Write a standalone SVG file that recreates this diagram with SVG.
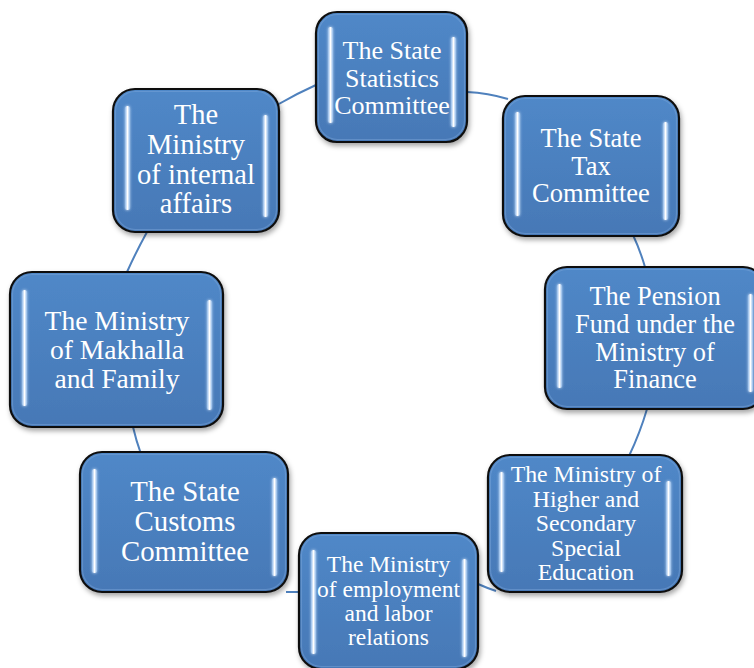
<svg xmlns="http://www.w3.org/2000/svg" width="754" height="668" viewBox="0 0 754 668">
  <defs>
    <linearGradient id="boxFill" x1="0" y1="0" x2="0" y2="1">
      <stop offset="0" stop-color="#5088c8"/>
      <stop offset="0.5" stop-color="#4b80bf"/>
      <stop offset="1" stop-color="#4678b6"/>
    </linearGradient>
    <linearGradient id="barFill" x1="0" y1="0" x2="1" y2="0">
      <stop offset="0" stop-color="#8fb9ea"/>
      <stop offset="0.5" stop-color="#ffffff"/>
      <stop offset="1" stop-color="#8fb9ea"/>
    </linearGradient>
    <filter id="shadow" x="-10%" y="-10%" width="125%" height="125%">
      <feDropShadow dx="1.5" dy="3" stdDeviation="2.5" flood-color="#000" flood-opacity="0.35"/>
    </filter>
    <filter id="glow" x="-300%" y="-10%" width="700%" height="120%">
      <feGaussianBlur in="SourceGraphic" stdDeviation="1.6" result="halo"/>
      <feMerge>
        <feMergeNode in="halo"/>
        <feMergeNode in="SourceGraphic"/>
      </feMerge>
    </filter>
  </defs>
  <style>
    .box { fill: url(#boxFill); stroke: #111; stroke-width: 2.2; filter: url(#shadow); }
    .rim { fill: none; stroke: #7fa9dc; stroke-width: 1.2; opacity: 0.45; }
    .bar { fill: url(#barFill); filter: url(#glow); }
    .lbl { font-family: "Liberation Serif", "Times New Roman", serif; fill: #ffffff; text-anchor: middle; }
    .link { fill: none; stroke: #4f81bd; stroke-width: 2; }
  </style>

  <!-- ring of connectors between neighbouring bodies -->
  <g id="connectors">
    <path class="link" d="M277,105 Q298,93 318,84"/>
    <path class="link" d="M467,92 Q488,93 508,99"/>
    <path class="link" d="M633,235 Q640,250 645,267"/>
    <path class="link" d="M647,409 Q640,433 629,456"/>
    <path class="link" d="M478,584 Q487,588 496,591"/>
    <path class="link" d="M286,592 L301,592"/>
    <path class="link" d="M133,427 Q136,440 141,454"/>
    <path class="link" d="M127,272 Q136,252 147,232"/>
  </g>

  <g id="statistics">
    <rect class="box" x="316" y="12" width="151" height="130" rx="21"/>
    <rect class="rim" x="318.5" y="14.5" width="146" height="125" rx="19"/>
    <rect class="bar" x="328" y="27" width="5" height="96" rx="2.5"/>
    <rect class="bar" x="451" y="37" width="5" height="90" rx="2.5"/>
    <text class="lbl" font-size="26" x="392" y="59">The State</text>
    <text class="lbl" font-size="26" x="392" y="86.5">Statistics</text>
    <text class="lbl" font-size="26" x="392" y="114">Committee</text>
  </g>

  <g id="internal-affairs">
    <rect class="box" x="113" y="89" width="166" height="143" rx="22"/>
    <rect class="rim" x="115.5" y="91.5" width="161" height="138" rx="20"/>
    <rect class="bar" x="125" y="106" width="5" height="104" rx="2.5"/>
    <rect class="bar" x="263" y="115" width="5" height="102" rx="2.5"/>
    <text class="lbl" font-size="28.5" x="196" y="124">The</text>
    <text class="lbl" font-size="28.5" x="196" y="154">Ministry</text>
    <text class="lbl" font-size="28.5" x="196" y="183.5">of internal</text>
    <text class="lbl" font-size="28.5" x="196" y="213">affairs</text>
  </g>

  <g id="tax">
    <rect class="box" x="503" y="96" width="176" height="140" rx="22"/>
    <rect class="rim" x="505.5" y="98.5" width="171" height="135" rx="20"/>
    <rect class="bar" x="515" y="112" width="5" height="104" rx="2.5"/>
    <rect class="bar" x="663" y="122" width="5" height="98" rx="2.5"/>
    <text class="lbl" font-size="26.5" x="591" y="147">The State</text>
    <text class="lbl" font-size="26.5" x="591" y="174.5">Tax</text>
    <text class="lbl" font-size="26.5" x="591" y="202">Committee</text>
  </g>

  <g id="pension">
    <rect class="box" x="545" y="267" width="220" height="142" rx="22"/>
    <rect class="rim" x="547.5" y="269.5" width="215" height="137" rx="20"/>
    <rect class="bar" x="557" y="284" width="5" height="104" rx="2.5"/>
    <rect class="bar" x="748" y="294" width="5" height="98" rx="2.5"/>
    <text class="lbl" font-size="26.4" x="655" y="305">The Pension</text>
    <text class="lbl" font-size="26.4" x="655" y="333">Fund under the</text>
    <text class="lbl" font-size="26.4" x="655" y="360.5">Ministry of</text>
    <text class="lbl" font-size="26.4" x="655" y="388">Finance</text>
  </g>

  <g id="higher-education">
    <rect class="box" x="488" y="455" width="194" height="137" rx="22"/>
    <rect class="rim" x="490.5" y="457.5" width="189" height="132" rx="20"/>
    <rect class="bar" x="499" y="472" width="5" height="100" rx="2.5"/>
    <rect class="bar" x="666" y="481" width="5" height="95" rx="2.5"/>
    <text class="lbl" font-size="23.8" x="586" y="482">The Ministry of</text>
    <text class="lbl" font-size="23.8" x="586" y="506.5">Higher and</text>
    <text class="lbl" font-size="23.8" x="586" y="531">Secondary</text>
    <text class="lbl" font-size="23.8" x="586" y="555.5">Special</text>
    <text class="lbl" font-size="23.8" x="586" y="580">Education</text>
  </g>

  <g id="employment">
    <rect class="box" x="299" y="533" width="179" height="136" rx="22"/>
    <rect class="rim" x="301.5" y="535.5" width="174" height="131" rx="20"/>
    <rect class="bar" x="311" y="550" width="5" height="104" rx="2.5"/>
    <rect class="bar" x="462" y="559" width="5" height="98" rx="2.5"/>
    <text class="lbl" font-size="23.5" x="388.5" y="572">The Ministry</text>
    <text class="lbl" font-size="23.5" x="388.5" y="596.5">of employment</text>
    <text class="lbl" font-size="23.5" x="388.5" y="621">and labor</text>
    <text class="lbl" font-size="23.5" x="388.5" y="645">relations</text>
  </g>

  <g id="customs">
    <rect class="box" x="80" y="452" width="208" height="140" rx="22"/>
    <rect class="rim" x="82.5" y="454.5" width="203" height="135" rx="20"/>
    <rect class="bar" x="92" y="469" width="5" height="104" rx="2.5"/>
    <rect class="bar" x="272" y="478" width="5" height="98" rx="2.5"/>
    <text class="lbl" font-size="28.8" x="185" y="501">The State</text>
    <text class="lbl" font-size="28.8" x="185" y="531">Customs</text>
    <text class="lbl" font-size="28.8" x="185" y="561">Committee</text>
  </g>

  <g id="makhalla">
    <rect class="box" x="10" y="272" width="213" height="155" rx="22"/>
    <rect class="rim" x="12.5" y="274.5" width="208" height="150" rx="20"/>
    <rect class="bar" x="22" y="290" width="5" height="116" rx="2.5"/>
    <rect class="bar" x="207" y="300" width="5" height="110" rx="2.5"/>
    <text class="lbl" font-size="27.6" x="117" y="330">The Ministry</text>
    <text class="lbl" font-size="27.6" x="117" y="359">of Makhalla</text>
    <text class="lbl" font-size="27.6" x="117" y="388">and Family</text>
  </g>
</svg>
